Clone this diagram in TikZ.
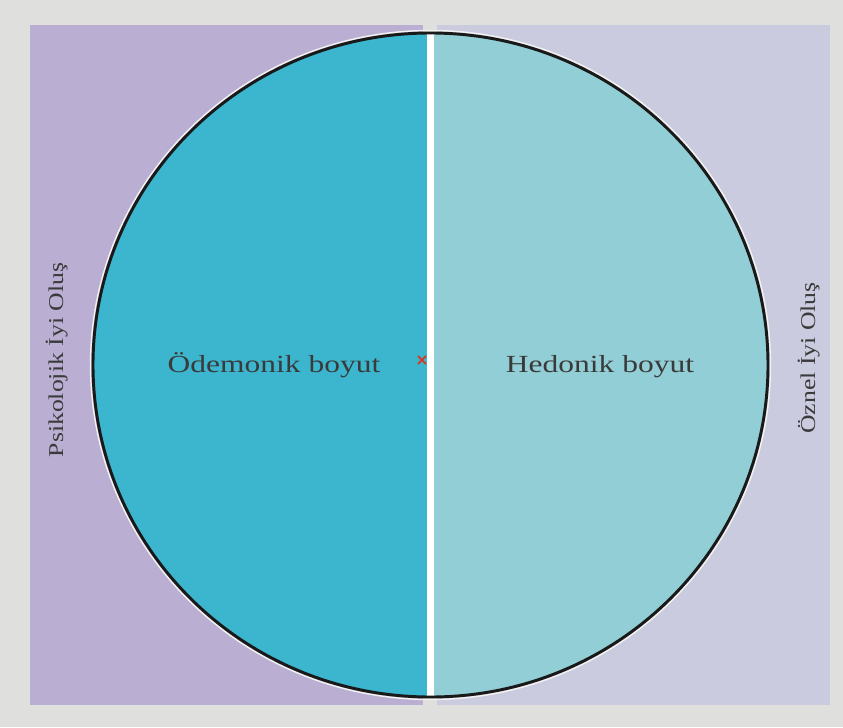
\documentclass[tikz,border=0pt]{standalone}
\usepackage{fontspec}
\setmainfont{Liberation Serif}
\definecolor{sfondo}{HTML}{DFDFDD}
\definecolor{viola}{HTML}{BAAFD3}
\definecolor{lavanda}{HTML}{CBCBDF}
\definecolor{blu}{HTML}{3CB6CE}
\definecolor{azzurro}{HTML}{91CED5}
\definecolor{testo}{HTML}{3A3A3A}
\definecolor{croce}{HTML}{C9432C}
\tikzset{
    etichetta/.style={inner sep=0pt, anchor=base, text=testo, font=\fontsize{21}{24}\selectfont},
    lato/.style={inner sep=0pt, anchor=base, rotate=90, text=testo, font=\fontsize{18}{21}\selectfont}
}
\begin{document}
\begin{tikzpicture}[x=0.03cm,y=-0.03cm]
        %%%%%%%%% Sfondo %%%%%%%%%
        \fill[sfondo] (0,0) rectangle (843,727);
        \useasboundingbox (0,0) rectangle (843,727);
        \fill[viola] (30,25) rectangle (423,705);
        \fill[lavanda] (437,25) rectangle (830,705);

        %%%%%%%%% Cerchio %%%%%%%%%
        \begin{scope}
            \clip (430.5,365) ellipse [x radius=337.5, y radius=332];
            \fill[blu] (90,30) rectangle (430.5,700);
            \fill[azzurro] (430.5,30) rectangle (770,700);
            \fill[white] (427,30) rectangle (434,700);
        \end{scope}
        \draw[white!60!sfondo,line width=1.2pt] (430.5,365) ellipse [x radius=340, y radius=334.5];
        \draw[black!90,line width=2.5pt] (430.5,365) ellipse [x radius=337.5, y radius=332];

        %%%%%%%%% Testo %%%%%%%%%
        \node[etichetta] (eudaimonic) at (274,372) {\scalebox{1.28}[1]{Ödemonik boyut}};
        \node[etichetta] (hedonic) at (600,372) {\scalebox{1.28}[1]{Hedonik boyut}};
        \node[lato] (psychological) at (63,360) {\scalebox{1.22}[1]{Psikolojik İyi Oluş}};
        \node[lato] (subjective) at (815,358) {\scalebox{1.22}[1]{Öznel İyi Oluş}};

        %%%%%%%%% Centro %%%%%%%%%
        \draw[croce,line width=1.6pt] (418,356) -- (426,364);
        \draw[croce,line width=1.6pt] (418,364) -- (426,356);
\end{tikzpicture}
\end{document}
